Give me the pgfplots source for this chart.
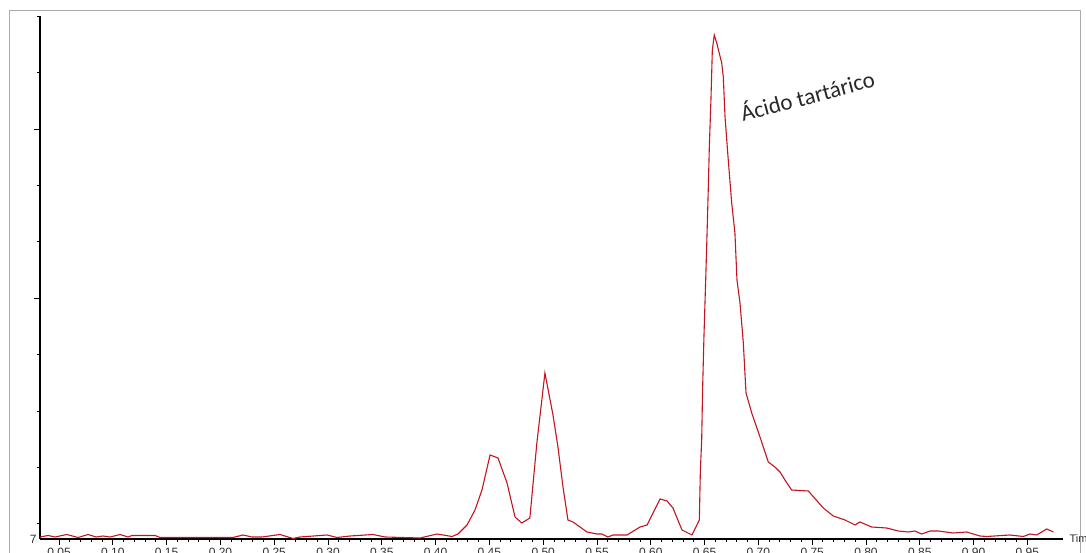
\documentclass[border=0pt]{standalone}
\usepackage{fontspec}
\setmainfont{Liberation Sans}
\newfontfamily\carlito{Carlito}
\usepackage{pgfplots}
\pgfplotsset{compat=1.18}
\definecolor{trace}{RGB}{195,20,32}
\definecolor{frame}{RGB}{170,170,170}
\definecolor{annot}{RGB}{40,40,40}
\begin{document}
\begin{tikzpicture}
\useasboundingbox (0pt,0pt) rectangle (1086pt,553pt);
\clip (0pt,0pt) rectangle (1086pt,553pt);
\fill[white] (0pt,0pt) rectangle (1086pt,553pt);
\draw[frame, line width=1pt] (9pt,-20pt) -- (9pt,542pt) -- (1080pt,542pt) -- (1080pt,-20pt);
\begin{axis}[
  at={(40pt,14pt)}, anchor=south west,
  scale only axis, width=1023pt, height=523pt,
  axis lines=left, axis line style={-, line width=1.1pt, black},
  xmin=0.0323, xmax=0.9831, ymin=0, ymax=523,
  clip=false,
  xtick={0.05,0.10,0.15,0.20,0.25,0.30,0.35,0.40,0.45,0.50,0.55,0.60,0.65,0.70,0.75,0.80,0.85,0.90,0.95},
  minor x tick num=4,
  ytick={241,410},
  minor ytick={16,72,128,185,298,354,467,523},
  yticklabels={},
  extra y ticks={0}, extra y tick labels={7},
  extra y tick style={major tick length=0pt},
  tick align=outside,
  major tick length=6pt, minor tick length=3pt,
  tick style={black, line width=0.9pt},
  xticklabel style={/pgf/number format/.cd, fixed, fixed zerofill, precision=2},
  /pgf/number format/assume math mode=true,
  tick label style={font=\fontsize{12}{13}\selectfont, text=black!80},
  xlabel={Tim}, xlabel style={at={(axis description cs:1,0)}, anchor=west, xshift=3pt, font=\fontsize{11}{12}\selectfont, text=black!80},
]
\addplot[trace, line width=1.1pt] coordinates {
(0.0323,2) (0.0398,3.5) (0.0463,2) (0.0572,4.5) (0.0677,1.5) (0.0770,4.5) (0.0844,2) (0.0909,3) (0.0974,2)
(0.1067,4.5) (0.1141,2) (0.1178,3.5) (0.1392,3.5) (0.1439,1.5) (0.2117,1.5) (0.2210,4) (0.2294,2) (0.2387,2)
(0.2554,4.5) (0.2675,0.5) (0.2740,2) (0.2991,4) (0.3084,1.5) (0.3205,3) (0.3418,4.5) (0.3530,2) (0.3855,1)
(0.4013,5) (0.4152,2.5) (0.4208,5) (0.4292,14) (0.4366,29) (0.4431,49) (0.4506,84) (0.4580,81) (0.4664,56)
(0.4738,22) (0.4801,16) (0.4876,21) (0.4941,96) (0.5016,166) (0.5091,124) (0.5137,92) (0.5184,52) (0.5230,19)
(0.5277,17) (0.5407,7) (0.5500,5) (0.5546,5) (0.5602,2) (0.5649,4) (0.5779,4) (0.5900,12) (0.5965,14)
(0.6086,40) (0.6151,38) (0.6206,31) (0.6290,9) (0.6383,4) (0.6451,19) (0.6461,69) (0.6473,99) (0.6482,152)
(0.6494,202) (0.6513,269) (0.6522,302) (0.6534,349) (0.6544,392) (0.6559,439) (0.6572,489) (0.6590,504)
(0.6613,496) (0.6659,476) (0.6674,462) (0.6690,422) (0.6720,379) (0.6752,336) (0.6782,306) (0.6801,259)
(0.6829,236) (0.6860,196) (0.6885,146) (0.6938,126) (0.7015,102) (0.7092,77) (0.7154,72) (0.7201,67)
(0.7247,59) (0.7309,49) (0.7464,48) (0.7603,31) (0.7696,23) (0.7805,19) (0.7898,14) (0.7944,17) (0.8053,12)
(0.8192,11) (0.8300,8) (0.8393,7) (0.8455,8) (0.8518,5) (0.8595,8) (0.8672,8) (0.8811,6) (0.8936,7)
(0.9059,3) (0.9122,2.5) (0.9338,4) (0.9462,2.5) (0.9524,5) (0.9587,4) (0.9680,10) (0.9742,7)
};
\node[anchor=base west, rotate=15, font=\carlito\fontsize{23}{26}\selectfont, text=annot, inner sep=0pt] at (axis cs:0.6857,417) {Ácido tartárico};
\end{axis}
\end{tikzpicture}
\end{document}
